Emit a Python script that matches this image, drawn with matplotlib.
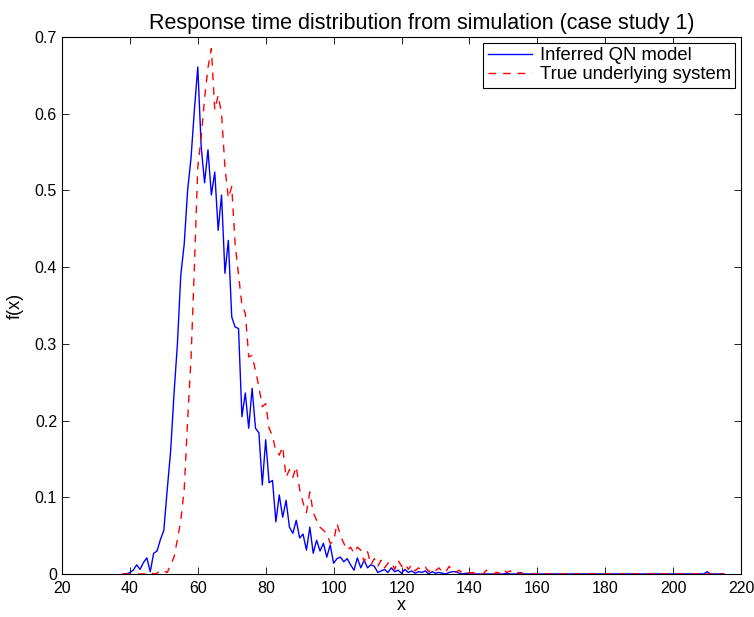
import numpy as np
import matplotlib.pyplot as plt

plt.rcParams['font.family'] = ['Liberation Sans', 'DejaVu Sans']

# response time grid (x) and densities
x = np.arange(38, 216)

inferred = [
    0, 0,                                                           # 38-39
    0.002, 0.005, 0.012, 0.006, 0.015, 0.021, 0.003, 0.027, 0.03, 0.045,   # 40-49
    0.057, 0.11, 0.16, 0.235, 0.3, 0.39, 0.43, 0.5, 0.542, 0.605,        # 50-59
    0.661, 0.557, 0.51, 0.553, 0.494, 0.524, 0.448, 0.494, 0.392, 0.435,  # 60-69
    0.335, 0.322, 0.32, 0.205, 0.236, 0.19, 0.242, 0.19, 0.184, 0.116,   # 70-79
    0.175, 0.119, 0.122, 0.068, 0.103, 0.074, 0.096, 0.061, 0.053, 0.07,  # 80-89
    0.047, 0.052, 0.031, 0.061, 0.027, 0.044, 0.03, 0.04, 0.022, 0.038,  # 90-99
    0.014, 0.02, 0.022, 0.016, 0.02, 0.012, 0.005, 0.021, 0.008, 0.018,  # 100-109
    0.008, 0.012, 0.01, 0.002, 0.004, 0.006, 0.002, 0.008, 0.003, 0.005, # 110-119
    0.001, 0.006, 0.002, 0.004, 0.001, 0.003, 0.002, 0.004, 0, 0.003,     # 120-129
    0.001, 0.002, 0.001, 0, 0.002, 0.003, 0.003, 0.001, 0, 0.001,         # 130-139
    0, 0, 0, 0, 0, 0, 0, 0, 0, 0,                                   # 140-149
    0, 0.001, 0, 0, 0, 0.002, 0, 0, 0, 0,                           # 150-159
    0, 0, 0, 0, 0, 0, 0, 0, 0, 0,                                   # 160-169
    0, 0, 0, 0, 0, 0, 0, 0, 0, 0,                                   # 170-179
    0, 0, 0, 0, 0, 0, 0, 0, 0, 0,                                   # 180-189
    0, 0, 0, 0, 0, 0, 0, 0, 0, 0,                                   # 190-199
    0, 0, 0, 0, 0, 0, 0, 0, 0, 0,                                   # 200-209
    0.003, 0, 0, 0, 0, 0,                                           # 210-215
]

true_system = [
    0, 0,                                                           # 38-39
    0, 0, 0, 0, 0, 0, 0.002, 0, 0.001, 0.005,                       # 40-49
    0.004, 0.002, 0.012, 0.022, 0.045, 0.07, 0.11, 0.2, 0.28, 0.4,       # 50-59
    0.53, 0.57, 0.62, 0.66, 0.685, 0.605, 0.624, 0.6, 0.53, 0.49,        # 60-69
    0.505, 0.43, 0.39, 0.35, 0.34, 0.283, 0.285, 0.265, 0.244, 0.218,    # 70-79
    0.222, 0.19, 0.18, 0.16, 0.155, 0.166, 0.126, 0.136, 0.126, 0.14,    # 80-89
    0.11, 0.093, 0.08, 0.107, 0.08, 0.07, 0.061, 0.057, 0.053, 0.04,     # 90-99
    0.042, 0.066, 0.05, 0.04, 0.031, 0.035, 0.027, 0.035, 0.031, 0.016,  # 100-109
    0.029, 0.012, 0.02, 0.01, 0.018, 0.008, 0.014, 0.016, 0.006, 0.018,  # 110-119
    0.01, 0.014, 0.006, 0.012, 0.004, 0.008, 0.005, 0.009, 0.003, 0.007, # 120-129
    0.004, 0.008, 0.003, 0.002, 0.01, 0.004, 0.002, 0.005, 0.001, 0.003, # 130-139
    0.001, 0.002, 0, 0.001, 0, 0.005, 0.001, 0, 0.002, 0.001,       # 140-149
    0.006, 0.002, 0.004, 0.001, 0.003, 0, 0.001, 0.003, 0, 0,       # 150-159
    0, 0, 0, 0, 0, 0, 0, 0, 0, 0,                                   # 160-169
    0, 0, 0, 0, 0, 0, 0, 0, 0, 0,                                   # 170-179
    0, 0, 0, 0, 0, 0, 0, 0, 0, 0,                                   # 180-189
    0, 0, 0, 0, 0, 0, 0, 0, 0, 0,                                   # 190-199
    0, 0, 0, 0, 0, 0, 0, 0, 0, 0,                                   # 200-209
    0, 0, 0, 0, 0, 0,                                               # 210-215
]

fig = plt.figure(figsize=(7.54, 6.17), dpi=100)
ax = fig.add_axes([0.0822, 0.0697, 0.9006, 0.8703])

ax.plot(x, inferred, color="#0000ff", lw=1.0, label="Inferred QN model")
ax.plot(x, true_system, color="#ff0000", lw=1.0, ls=(0, (5.5, 5)), label="True underlying system")

ax.set_xlim(20, 220)
ax.set_ylim(0, 0.7)
ax.set_xticks(np.arange(20, 221, 20))
ax.set_yticks(np.arange(0, 0.71, 0.1))
ax.set_yticklabels(["0", "0.1", "0.2", "0.3", "0.4", "0.5", "0.6", "0.7"])
ax.tick_params(direction="in", top=True, right=True, length=5, width=0.6, labelsize=11.5)
ax.tick_params(axis="x", pad=5)
for s in ax.spines.values():
    s.set_linewidth(0.8)

ax.set_title("Response time distribution from simulation (case study 1)", fontsize=15.5, pad=6, x=0.53)
ax.set_xlabel("x", fontsize=13, labelpad=1)
ax.set_ylabel("f(x)", fontsize=13, labelpad=8)

leg = ax.legend(loc="upper right", fontsize=13.3, fancybox=False, framealpha=1,
                edgecolor="black", handlelength=2.4, borderaxespad=0.3,
                borderpad=0.25, labelspacing=0.1, handletextpad=0.4)
leg.get_frame().set_linewidth(0.8)

fig.savefig("out.png", dpi=100)
